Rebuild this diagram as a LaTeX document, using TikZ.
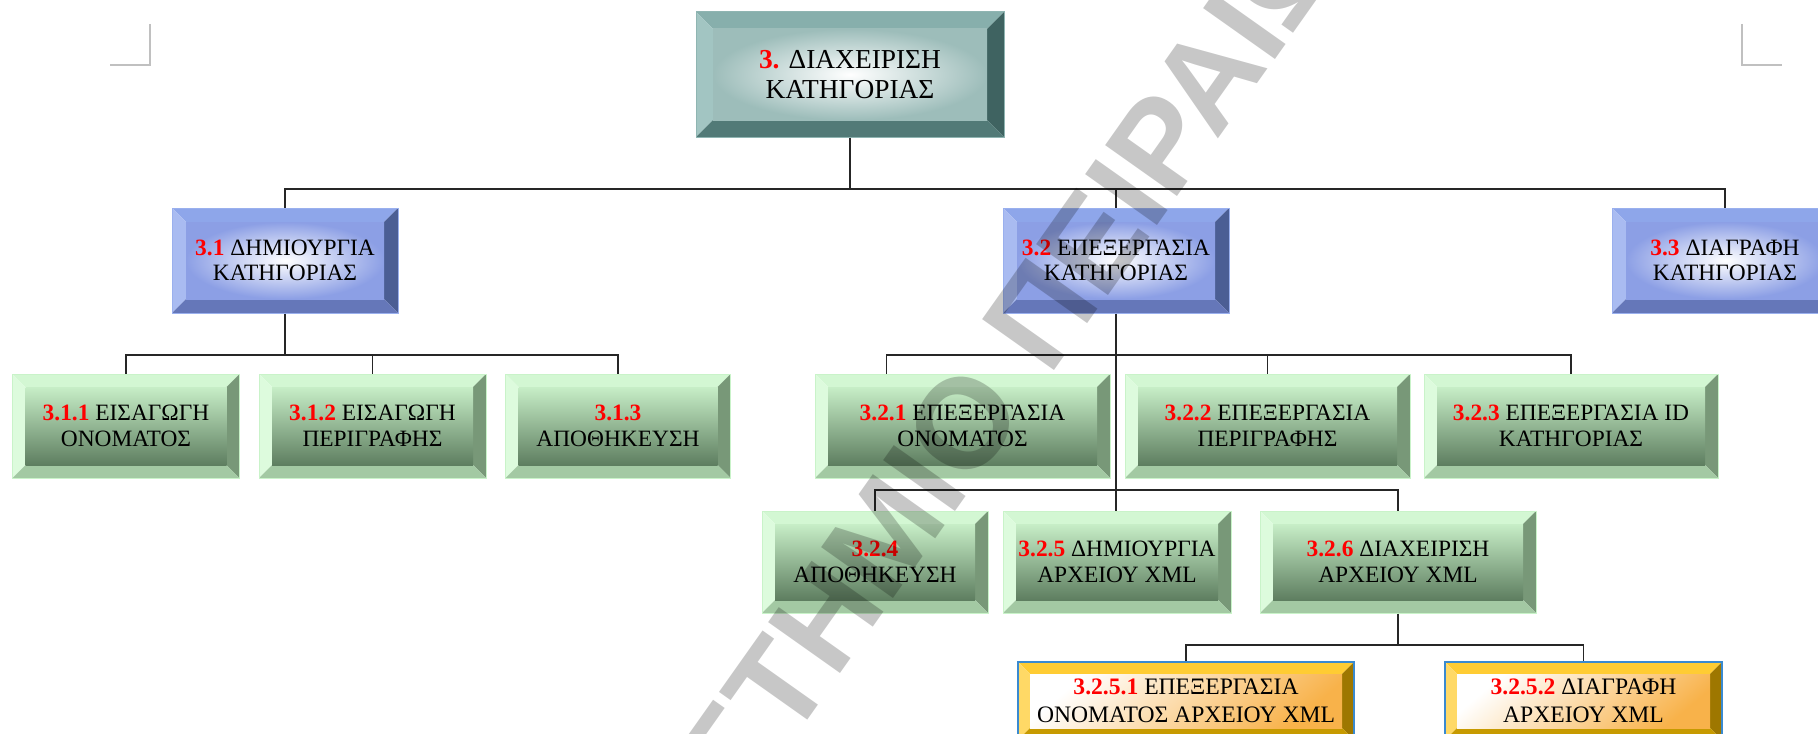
\documentclass[tikz,border=0pt]{standalone}
\usepackage{fontspec}
\setmainfont{Liberation Serif}
\newfontfamily\wmfont{Liberation Sans}
\usetikzlibrary{calc}

% palettes: top / left / right / bottom bevels, border, face
\definecolor{tealT}{HTML}{87AFAC}
\definecolor{tealL}{HTML}{A2C5C2}
\definecolor{tealR}{HTML}{3F6361}
\definecolor{tealB}{HTML}{527A77}
\definecolor{tealE}{HTML}{8FB5B2}
\definecolor{tealO}{HTML}{9DBDBA}
\definecolor{blueT}{HTML}{8EA6EA}
\definecolor{blueL}{HTML}{A9BBF1}
\definecolor{blueR}{HTML}{4B5E94}
\definecolor{blueB}{HTML}{6577B9}
\definecolor{blueE}{HTML}{9AB0EE}
\definecolor{blueO}{HTML}{8C9FE5}
\definecolor{grnT}{HTML}{D3F7D3}
\definecolor{grnL}{HTML}{DDFBDD}
\definecolor{grnR}{HTML}{789878}
\definecolor{grnB}{HTML}{A3C9A3}
\definecolor{grnE}{HTML}{C9F3C9}
\definecolor{grnF1}{HTML}{C7EEC7}
\definecolor{grnF2}{HTML}{A2C4A2}
\definecolor{grnF3}{HTML}{5E7E60}
\definecolor{gldT}{HTML}{FFCC33}
\definecolor{gldL}{HTML}{FFD966}
\definecolor{gldR}{HTML}{9E7700}
\definecolor{gldB}{HTML}{C79A00}
\definecolor{gldE}{HTML}{3A8AD0}
\definecolor{gldO}{HTML}{F8B24A}
\definecolor{cropgray}{HTML}{C0C0C0}

\newcommand\numlabel[1]{\textcolor{red}{\textbf{#1}}}

\tikzset{
  % bevelled box: #1 bevel width, #2 top, #3 left, #4 right, #5 bottom, #6 border, #7 face style
  bevel/.style n args={7}{
    rectangle, inner sep=0pt, align=center, draw=#6,
    path picture={
      \coordinate (pnw) at (path picture bounding box.north west);
      \coordinate (pne) at (path picture bounding box.north east);
      \coordinate (psw) at (path picture bounding box.south west);
      \coordinate (pse) at (path picture bounding box.south east);
      \coordinate (inw) at ([shift={(#1,-#1)}]pnw);
      \coordinate (ine) at ([shift={(-#1,-#1)}]pne);
      \coordinate (isw) at ([shift={(#1,#1)}]psw);
      \coordinate (ise) at ([shift={(-#1,#1)}]pse);
      \fill[#2] (pnw) -- (pne) -- (ine) -- (inw) -- cycle;
      \fill[#3] (pnw) -- (inw) -- (isw) -- (psw) -- cycle;
      \fill[#4] (pne) -- (ine) -- (ise) -- (pse) -- cycle;
      \fill[#5] (psw) -- (isw) -- (ise) -- (pse) -- cycle;
      \shade[#7] (inw) rectangle (ise);
    }
  },
  wh/.style 2 args={minimum width=#1*0.5pt, minimum height=#2*0.5pt},
  tealbox/.style={bevel={8.5pt}{tealT}{tealL}{tealR}{tealB}{tealE}{tealface},
    line width=0.5pt, font=\fontsize{13.7}{15}\selectfont},
  tealface/.style={inner color=white, outer color=tealO},
  bluebox/.style={bevel={7pt}{blueT}{blueL}{blueR}{blueB}{blueE}{blueface},
    line width=0.5pt, font=\fontsize{11.7}{12.5}\selectfont},
  blueface/.style={inner color=white, outer color=blueO},
  greenbox/.style={bevel={6.5pt}{grnT}{grnL}{grnR}{grnB}{grnE}{greenface},
    line width=0.5pt, font=\fontsize{11.7}{13}\selectfont},
  greenface/.style={top color=grnF1, middle color=grnF2, bottom color=grnF3},
  goldbox/.style={bevel={6pt}{gldT}{gldL}{gldR}{gldB}{gldE}{goldface},
    line width=0.75pt, font=\fontsize{11.8}{14}\selectfont},
  goldface/.style={top color=white, bottom color=gldO, shading angle=40},
  conn/.style={draw=black!85, line width=0.75pt},
  cropmark/.style={draw=cropgray, line width=0.75pt},
  watermark/.style={rotate=54.7, text=black, text opacity=0.22,
    font=\wmfont\bfseries\fontsize{64}{64}\selectfont, inner sep=0pt},
}

\begin{document}
\begin{tikzpicture}[x=0.5pt, y=-0.5pt]
  \useasboundingbox (0,0) rectangle (1818,733);
  \clip (0,0) rectangle (1818,733);
  \fill[white] (0,0) rectangle (1818,733);

  % margin crop marks
  \draw[cropmark] (150,24) -- (150,65) -- (110,65);
  \draw[cropmark] (1742,24) -- (1742,65) -- (1782,65);

  % junction points of the connector tree
  \coordinate (j0) at (850,189);
  \coordinate (j1) at (285,355);
  \coordinate (j2) at (1116,355);
  \coordinate (j3) at (1116,490);
  \coordinate (j4) at (1398,645);

  % level 0
  \node[tealbox, wh={308}{125}] (T) at (850,74.5)
    {\numlabel{3.} ΔΙΑΧΕΙΡΙΣΗ\\ΚΑΤΗΓΟΡΙΑΣ};

  % level 1
  \node[bluebox, wh={226}{105}] (A) at (285,260.5)
    {\numlabel{3.1} ΔΗΜΙΟΥΡΓΙΑ\\ΚΑΤΗΓΟΡΙΑΣ};
  \node[bluebox, wh={226}{105}] (B) at (1116,260.5)
    {\numlabel{3.2} ΕΠΕΞΕΡΓΑΣΙΑ\\ΚΑΤΗΓΟΡΙΑΣ};
  \node[bluebox, wh={226}{105}] (C) at (1725,260.5)
    {\numlabel{3.3} ΔΙΑΓΡΑΦΗ\\ΚΑΤΗΓΟΡΙΑΣ};

  % level 2 under 3.1
  \node[greenbox, wh={227}{104}] (A1) at (126,426)
    {\numlabel{3.1.1} ΕΙΣΑΓΩΓΗ\\ΟΝΟΜΑΤΟΣ};
  \node[greenbox, wh={227}{104}] (A2) at (372.5,426)
    {\numlabel{3.1.2} ΕΙΣΑΓΩΓΗ\\ΠΕΡΙΓΡΑΦΗΣ};
  \node[greenbox, wh={225}{104}] (A3) at (618,426)
    {\numlabel{3.1.3}\\ΑΠΟΘΗΚΕΥΣΗ};

  % level 2 under 3.2
  \node[greenbox, wh={295}{104}] (B1) at (962.5,426)
    {\numlabel{3.2.1} ΕΠΕΞΕΡΓΑΣΙΑ\\ΟΝΟΜΑΤΟΣ};
  \node[greenbox, wh={285}{104}] (B2) at (1267.5,426)
    {\numlabel{3.2.2} ΕΠΕΞΕΡΓΑΣΙΑ\\ΠΕΡΙΓΡΑΦΗΣ};
  \node[greenbox, wh={294}{104}] (B3) at (1571,426)
    {\numlabel{3.2.3} ΕΠΕΞΕΡΓΑΣΙΑ ID\\ΚΑΤΗΓΟΡΙΑΣ};

  % level 3 under 3.2
  \node[greenbox, wh={226}{102}] (B4) at (875,562)
    {\numlabel{3.2.4}\\ΑΠΟΘΗΚΕΥΣΗ};
  \node[greenbox, wh={228}{102}] (B5) at (1117,562)
    {\numlabel{3.2.5} ΔΗΜΙΟΥΡΓΙΑ\\ΑΡΧΕΙΟΥ XML};
  \node[greenbox, wh={276}{102}] (B6) at (1398,562)
    {\numlabel{3.2.6} ΔΙΑΧΕΙΡΙΣΗ\\ΑΡΧΕΙΟΥ XML};

  % level 4 under 3.2.6
  \node[goldbox, wh={336}{78}] (G1) at (1186,701)
    {\numlabel{3.2.5.1} ΕΠΕΞΕΡΓΑΣΙΑ\\ΟΝΟΜΑΤΟΣ ΑΡΧΕΙΟΥ XML};
  \node[goldbox, wh={277}{78}] (G2) at (1583.5,701)
    {\numlabel{3.2.5.2} ΔΙΑΓΡΑΦΗ\\ΑΡΧΕΙΟΥ XML};

  % the left drop of 3.2's row meets 3.2.1 off its centre
  \coordinate (b1top) at ($(B1.north west)!0.244!(B1.north east)$);

  % connectors
  \draw[conn] (T.south) -- (j0);
  \draw[conn] (A.north) |- (j0) -| (C.north);
  \draw[conn] (B.north) -- (B.north |- j0);

  \draw[conn] (A.south) -- (j1);
  \draw[conn] (A1.north) |- (j1) -| (A3.north);
  \draw[conn] (A2.north) -- (A2.north |- j1);

  \draw[conn] (B.south) -- (j3);
  \draw[conn] (b1top) |- (j2) -| (B3.north);
  \draw[conn] (B2.north) -- (B2.north |- j2);

  \draw[conn] (B4.north) |- (j3) -| (B6.north);
  \draw[conn] (j3) -- (j3 |- B5.north);

  \draw[conn] (B6.south) -- (j4);
  \draw[conn] (G1.north) |- (j4) -| (G2.north);

  % diagonal watermark, set as two words either side of the gap
  \node[watermark, anchor=base east] (wm1) at (1028.6,407.7) {ΠΑΝΕΠΙΣΤΗΜΙΟ};
  \node[watermark, anchor=base west] (wm2) at (1049.4,378.3) {ΠΕΙΡΑΙΩΣ};
\end{tikzpicture}
\end{document}
